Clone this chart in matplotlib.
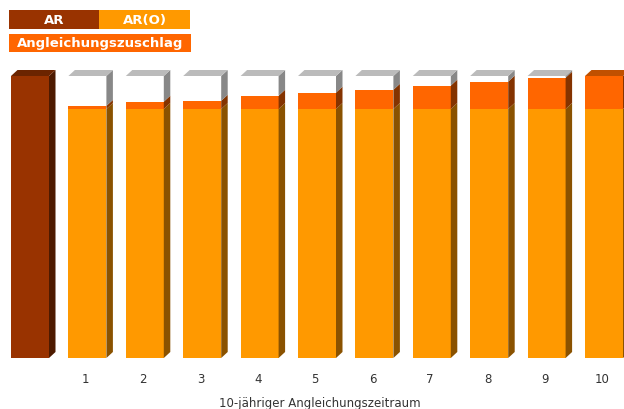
import matplotlib.pyplot as plt
from matplotlib.patches import Polygon

# values in % of AR
ar_value = 100.0
aro_value = 88.3
years = ["1", "2", "3", "4", "5", "6", "7", "8", "9", "10"]
surcharge = [1.1, 2.6, 2.9, 4.7, 5.8, 6.8, 8.3, 9.7, 11.1, 11.7]

C_AR, C_AR_TOP, C_AR_SIDE = "#993300", "#6b2400", "#4d1a00"
C_ARO, C_ARO_SIDE = "#ff9900", "#8a5200"
C_ADD, C_ADD_TOP, C_ADD_SIDE = "#ff6600", "#c05000", "#843300"
C_EMPTY_TOP, C_EMPTY_SIDE = "#bbbbbb", "#888888"

W, H, DPI = 624, 410, 100
X0_PX, STEP_PX = 30, 57.4       # bar centre of first bar, spacing
Y0_PX, UNIT_PX = 51, 2.82       # baseline from bottom, px per %
BAR_W = 38 / STEP_PX
DX = 6.5 / STEP_PX
DY = 6 / UNIT_PX

fig = plt.figure(figsize=(W / DPI, H / DPI), dpi=DPI)
ax = fig.add_axes([0, 0, 1, 1])
ax.set_xlim(-X0_PX / STEP_PX, (W - X0_PX) / STEP_PX)
ax.set_ylim(-Y0_PX / UNIT_PX, (H - Y0_PX) / UNIT_PX)
ax.axis("off")


def side(x, a, b, color):
    xr = x + BAR_W / 2
    ax.add_patch(Polygon([(xr, a), (xr + DX, a + DY), (xr + DX, b + DY), (xr, b)],
                         closed=True, color=color, lw=0))


def top(x, y, color):
    xl, xr = x - BAR_W / 2, x + BAR_W / 2
    ax.add_patch(Polygon([(xl, y), (xl + DX, y + DY), (xr + DX, y + DY), (xr, y)],
                         closed=True, color=color, lw=0))


# AR bar
ax.bar(0, ar_value, width=BAR_W, color=C_AR, lw=0)
side(0, 0, ar_value, C_AR_SIDE)
top(0, ar_value, C_AR_TOP)

for i, s in enumerate(surcharge, start=1):
    t = aro_value + s
    ax.bar(i, aro_value, width=BAR_W, color=C_ARO, lw=0)
    ax.bar(i, s, bottom=aro_value, width=BAR_W, color=C_ADD, lw=0)
    side(i, 0, aro_value, C_ARO_SIDE)
    side(i, aro_value, t, C_ADD_SIDE)
    if t < ar_value - 0.05:
        ax.bar(i, ar_value - t, bottom=t, width=BAR_W, color="white", lw=0)
        side(i, t, ar_value, C_EMPTY_SIDE)
        top(i, ar_value, C_EMPTY_TOP)
    else:
        top(i, ar_value, C_ADD_TOP)
    ax.text(i - 0.03, -7.4, years[i - 1], ha="center", va="center",
            fontsize=8.5, color="#333333")

ax.text(320 / STEP_PX - X0_PX / STEP_PX, (H - 404 - Y0_PX) / UNIT_PX,
        "10-jähriger Angleichungszeitraum", ha="center", va="center",
        fontsize=8.5, color="#333333")

# legend boxes (figure pixels)
def box(x0, x1, y0, y1, color, label):
    fig.patches.append(plt.Rectangle((x0 / W, 1 - y1 / H), (x1 - x0) / W, (y1 - y0) / H,
                                     transform=fig.transFigure, color=color, lw=0))
    fig.text((x0 + x1) / 2 / W, 1 - (y0 + y1) / 2 / H, label, ha="center", va="center",
             color="white", fontsize=9.5, fontweight="bold")


box(9, 99, 11, 30, C_AR, "AR")
box(99, 190, 11, 30, C_ARO, "AR(O)")
box(9, 191, 35, 53, C_ADD, "Angleichungszuschlag")

fig.savefig("out.png", dpi=DPI)
